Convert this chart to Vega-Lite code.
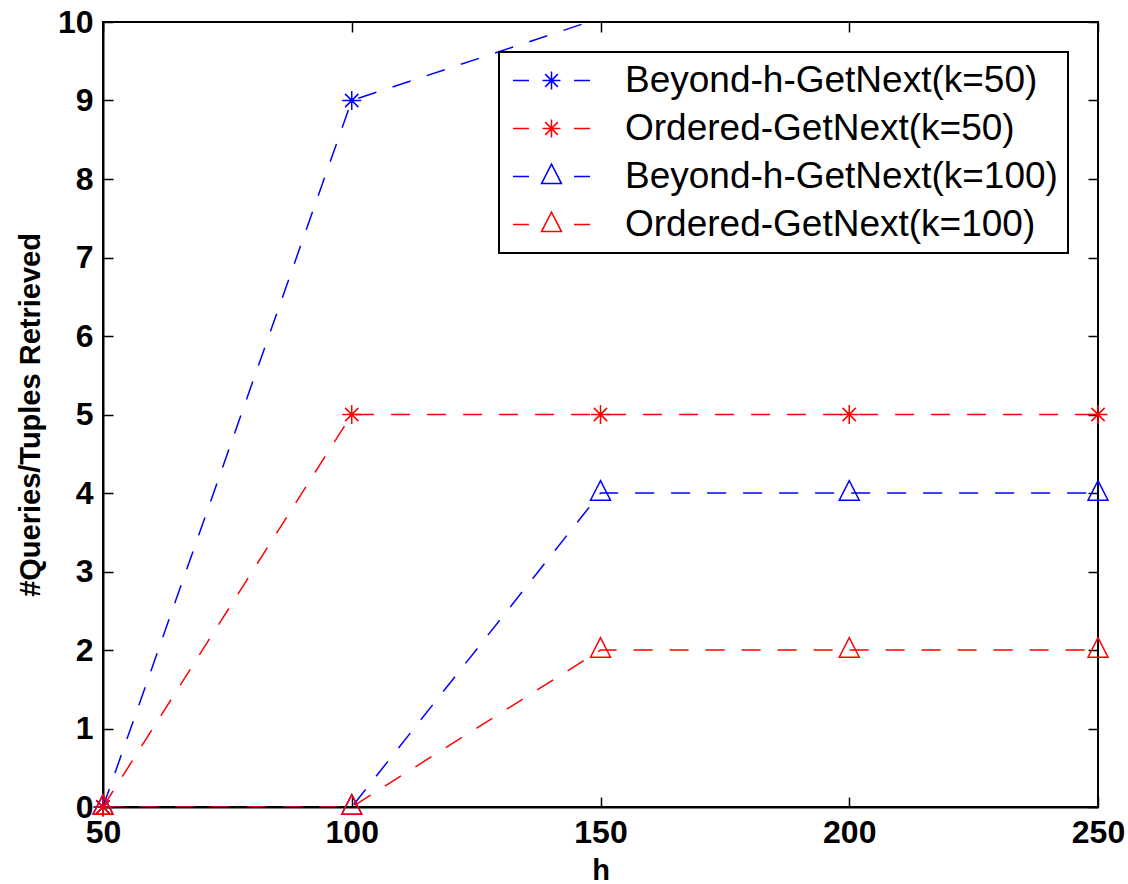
{
  "$schema": "https://vega.github.io/schema/vega-lite/v6.json",
  "width": 995,
  "height": 785,
  "autosize": {"type": "none"},
  "padding": {"left": 103, "top": 22, "right": 30, "bottom": 77},
  "background": "white",
  "config": {
    "view": {"stroke": "black", "strokeWidth": 2},
    "font": "Liberation Sans",
    "axis": {
      "grid": false,
      "domainColor": "black",
      "domainWidth": 2,
      "tickColor": "black",
      "tickWidth": 1.5,
      "tickSize": -10,
      "labelFlush": false,
      "labelFont": "Liberation Sans",
      "labelFontWeight": "bold",
      "labelFontSize": 32,
      "labelColor": "black",
      "titleFont": "Liberation Sans",
      "titleFontWeight": "bold",
      "titleFontSize": 29,
      "titleColor": "black"
    },
    "legend": {
      "strokeColor": "black",
      "strokeWidth": 2,
      "fillColor": "white",
      "padding": 10,
      "symbolSize": 1225,
      "symbolStrokeWidth": 1.5,
      "labelFont": "Liberation Sans",
      "labelFontSize": 37,
      "labelColor": "black",
      "labelOffset": 79,
      "rowPadding": 10,
      "labelLimit": 700
    }
  },
  "data": {
    "values": [
      {"series": "Beyond-h-GetNext(k=50)", "marker": "asterisk", "h": 50, "value": 0},
      {"series": "Beyond-h-GetNext(k=50)", "marker": "asterisk", "h": 100, "value": 9},
      {"series": "Beyond-h-GetNext(k=50)", "marker": "asterisk", "h": 150, "value": 10.05},
      {"series": "Beyond-h-GetNext(k=50)", "marker": "asterisk", "h": 200, "value": 11},
      {"series": "Beyond-h-GetNext(k=50)", "marker": "asterisk", "h": 250, "value": 11},
      {"series": "Ordered-GetNext(k=50)", "marker": "asterisk", "h": 50, "value": 0},
      {"series": "Ordered-GetNext(k=50)", "marker": "asterisk", "h": 100, "value": 5},
      {"series": "Ordered-GetNext(k=50)", "marker": "asterisk", "h": 150, "value": 5},
      {"series": "Ordered-GetNext(k=50)", "marker": "asterisk", "h": 200, "value": 5},
      {"series": "Ordered-GetNext(k=50)", "marker": "asterisk", "h": 250, "value": 5},
      {"series": "Beyond-h-GetNext(k=100)", "marker": "triangle", "h": 50, "value": 0},
      {"series": "Beyond-h-GetNext(k=100)", "marker": "triangle", "h": 100, "value": 0},
      {"series": "Beyond-h-GetNext(k=100)", "marker": "triangle", "h": 150, "value": 4},
      {"series": "Beyond-h-GetNext(k=100)", "marker": "triangle", "h": 200, "value": 4},
      {"series": "Beyond-h-GetNext(k=100)", "marker": "triangle", "h": 250, "value": 4},
      {"series": "Ordered-GetNext(k=100)", "marker": "triangle", "h": 50, "value": 0},
      {"series": "Ordered-GetNext(k=100)", "marker": "triangle", "h": 100, "value": 0},
      {"series": "Ordered-GetNext(k=100)", "marker": "triangle", "h": 150, "value": 2},
      {"series": "Ordered-GetNext(k=100)", "marker": "triangle", "h": 200, "value": 2},
      {"series": "Ordered-GetNext(k=100)", "marker": "triangle", "h": 250, "value": 2}
    ]
  },
  "layer": [
    {
      "mark": {"type": "line", "clip": true, "strokeDash": [19, 17], "strokeWidth": 1.5},
      "encoding": {
        "x": {
          "field": "h", "type": "quantitative",
          "scale": {"domain": [50, 250], "nice": false, "zero": false},
          "axis": {"orient": "bottom", "values": [50, 100, 150, 200, 250], "labelPadding": 20, "title": "h", "titlePadding": 8}
        },
        "y": {
          "field": "value", "type": "quantitative",
          "scale": {"domain": [0, 10], "nice": false},
          "axis": {"orient": "left", "values": [0, 1, 2, 3, 4, 5, 6, 7, 8, 9, 10], "labelPadding": 20, "title": "#Queries/Tuples Retrieved", "titlePadding": 12}
        },
        "color": {
          "field": "series", "type": "nominal",
          "scale": {
            "domain": ["Beyond-h-GetNext(k=50)", "Ordered-GetNext(k=50)", "Beyond-h-GetNext(k=100)", "Ordered-GetNext(k=100)"],
            "range": ["#0000ff", "#ff0000", "#0000ff", "#ff0000"]
          },
          "legend": {
            "title": null,
            "orient": "top-right",
            "offset": 30,
            "encode": {
              "symbols": {
                "update": {
                  "shape": {"signal": "indexof(datum.label, 'k=50') >= 0 ? 'M-0.829,0H0.086M2.657,0H3.571M1.371,-0.514V0.514M0.857,0H1.886M1.011,-0.364L1.731,0.364M1.011,0.364L1.731,-0.364' : 'M-0.829,0H0.086M2.657,0H3.571M1.371,-0.703L1.942,0.406L0.8,0.406Z'"},
                  "stroke": {"signal": "indexof(datum.label, 'Beyond') >= 0 ? '#0000ff' : '#ff0000'"},
                  "fill": {"value": "transparent"},
                  "strokeDash": {"value": []},
                  "strokeWidth": {"value": 1.5}
                }
              }
            }
          }
        }
      }
    },
    {
      "transform": [{"filter": "datum.value <= 10"}],
      "mark": {"type": "point", "filled": false, "size": 361, "strokeWidth": 1.5, "opacity": 1},
      "encoding": {
        "x": {
          "field": "h", "type": "quantitative",
          "axis": {"orient": "top", "values": [50, 100, 150, 200, 250], "labels": false, "title": null, "domain": false}
        },
        "y": {
          "field": "value", "type": "quantitative",
          "axis": {"orient": "right", "values": [0, 1, 2, 3, 4, 5, 6, 7, 8, 9, 10], "labels": false, "title": null, "domain": false}
        },
        "stroke": {
          "field": "series", "type": "nominal",
          "scale": {
            "domain": ["Beyond-h-GetNext(k=50)", "Ordered-GetNext(k=50)", "Beyond-h-GetNext(k=100)", "Ordered-GetNext(k=100)"],
            "range": ["#0000ff", "#ff0000", "#0000ff", "#ff0000"]
          },
          "legend": null
        },
        "shape": {
          "field": "marker", "type": "nominal",
          "scale": {
            "domain": ["asterisk", "triangle"],
            "range": [
              "M0,-1V1M-1,0H1M-0.7,-0.7L0.7,0.7M-0.7,0.7L0.7,-0.7",
              "M0,-1.3L1.05,0.75L-1.05,0.75Z"
            ]
          },
          "legend": null
        }
      }
    }
  ],
  "resolve": {"axis": {"x": "independent", "y": "independent"}}
}
